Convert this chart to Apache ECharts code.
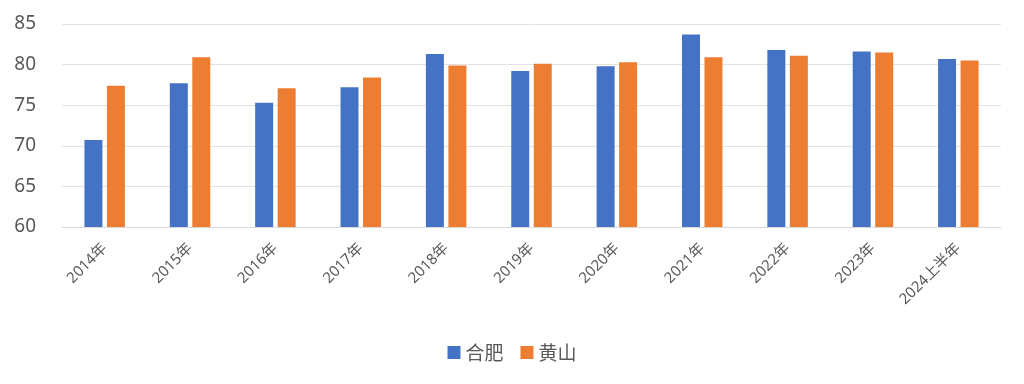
<!DOCTYPE html>
<html>
<head>
<meta charset="utf-8">
<script src="https://cdn.jsdelivr.net/npm/echarts@6/dist/echarts.min.js"></script>
<style>html,body{margin:0;padding:0;background:#fff;}#c{width:1024px;height:384px;}</style>
</head>
<body>
<div id="c"></div>
<script>
const categories = ['2014年','2015年','2016年','2017年','2018年','2019年','2020年','2021年','2022年','2023年','2024上半年'];
const hefei = [70.7, 77.7, 75.3, 77.2, 81.3, 79.2, 79.8, 83.7, 81.8, 81.6, 80.7];
const huangshan = [77.4, 80.9, 77.1, 78.4, 79.9, 80.1, 80.3, 80.9, 81.1, 81.5, 80.5];
const yTicks = { min: 60, max: 85, interval: 5 };

const font = '"Noto Sans", "Noto Sans CJK SC", sans-serif';
const chart = echarts.init(document.getElementById('c'), null, { renderer: 'canvas' });
chart.setOption({
  animation: false,
  backgroundColor: '#fff',
  textStyle: { fontFamily: font },
  grid: { left: 62, right: 23, top: 24, bottom: 157, containLabel: false },
  legend: {
    data: ['合肥', '黄山'],
    bottom: 17,
    left: 'center',
    icon: 'rect',
    itemWidth: 13,
    itemHeight: 13,
    itemGap: 17,
    textStyle: { color: '#595959', fontSize: 19, fontFamily: '"Noto Sans CJK SC", sans-serif' }
  },
  xAxis: {
    type: 'category',
    data: categories,
    axisLine: { lineStyle: { color: '#d9d9d9', width: 1 } },
    axisTick: { show: false },
    axisLabel: { rotate: 45, color: '#595959', fontSize: 15, margin: 19, fontFamily: font }
  },
  yAxis: {
    type: 'value',
    min: yTicks.min, max: yTicks.max, interval: yTicks.interval,
    axisLine: { show: false },
    axisTick: { show: false },
    splitLine: { lineStyle: { color: '#e3e3e3', width: 1 } },
    axisLabel: { color: '#595959', fontSize: 19, margin: 26, fontFamily: font }
  },
  series: [
    { name: '合肥', type: 'bar', data: hefei, barWidth: 18, barGap: '25%', itemStyle: { color: '#4472c4' } },
    { name: '黄山', type: 'bar', data: huangshan, barWidth: 18, barGap: '25%', itemStyle: { color: '#ed7d31' } }
  ]
});
</script>
</body>
</html>
